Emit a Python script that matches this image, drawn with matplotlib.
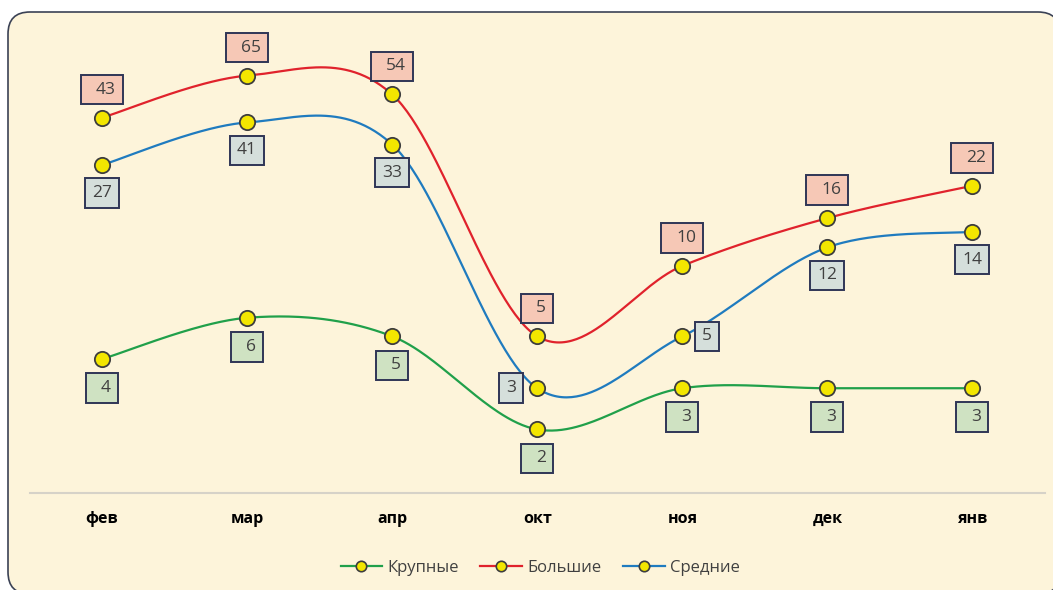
import numpy as np
import matplotlib
matplotlib.use("Agg")
import matplotlib.pyplot as plt
from matplotlib.patches import FancyBboxPatch
from matplotlib.path import Path
from matplotlib.lines import Line2D
from matplotlib.ticker import NullLocator

# --- data -------------------------------------------------------------
months = ["фев", "мар", "апр", "окт", "ноя", "дек", "янв"]
krupnye = [4, 6, 5, 2, 3, 3, 3]
bolshie = [43, 65, 54, 5, 10, 16, 22]
srednie = [27, 41, 33, 3, 5, 12, 14]
series_names = ["Крупные", "Большие", "Средние"]

# --- styling ----------------------------------------------------------
W, H, DPI = 1053, 590, 100
plt.rcParams['font.family'] = ['Open Sans', 'DejaVu Sans']

C_RED = '#e0222c'
C_BLUE = '#1f7bbf'
C_GREEN = '#20a04a'
MARKER_FACE = '#f3e600'
MARKER_EDGE = '#3d3d3d'
BOX_EDGE = '#2f3556'
TEXT_C = '#404040'


class LabelBox:
    """Rectangular label frame with independent left/right/vertical padding (px)."""

    def __init__(self, left, right, vert):
        self.left, self.right, self.vert = left, right, vert

    def __call__(self, x0, y0, width, height, mutation_size):
        xa = x0 - self.left
        xb = x0 + width + self.right
        ya = y0 - self.vert
        yb = y0 + height + self.vert
        return Path([(xa, ya), (xb, ya), (xb, yb), (xa, yb), (xa, ya)], closed=True)


def smooth(vals, n=60):
    """Cubic Bezier smoothing (Catmull-Rom style) in index / log10 space."""
    x = np.arange(len(vals), dtype=float)
    y = np.log10(np.asarray(vals, dtype=float))
    last = len(vals) - 1
    t = np.linspace(0, 1, n)
    xs, ys = [], []
    for i in range(last):
        i0 = max(i - 1, 0)
        i3 = min(i + 2, last)
        c1x = x[i] + (x[i + 1] - x[i0]) / 6
        c1y = y[i] + (y[i + 1] - y[i0]) / 6
        c2x = x[i + 1] - (x[i3] - x[i]) / 6
        c2y = y[i + 1] - (y[i3] - y[i]) / 6
        b0, b1, b2, b3 = (1 - t) ** 3, 3 * (1 - t) ** 2 * t, 3 * (1 - t) * t ** 2, t ** 3
        xs.append(b0 * x[i] + b1 * c1x + b2 * c2x + b3 * x[i + 1])
        ys.append(b0 * y[i] + b1 * c1y + b2 * c2y + b3 * y[i + 1])
    return np.concatenate(xs), 10 ** np.concatenate(ys)


fig = plt.figure(figsize=(W / DPI, H / DPI), dpi=DPI, facecolor='white')

# cream panel with a rounded dark frame
panel = FancyBboxPatch((8 / DPI, -4 / DPI), 1052 / DPI, 582 / DPI,
                       boxstyle="round,pad=0,rounding_size=0.22",
                       transform=fig.dpi_scale_trans,
                       facecolor='#fdf4da', edgecolor='#3b4255', linewidth=1.2,
                       zorder=-5)
fig.patches.append(panel)

ax = fig.add_axes([29.5 / W, 1 - 493 / H, 1015.5 / W, (493 - 25) / H])
ax.set_zorder(2)
ax.set_facecolor('none')
ax.set_yscale('log')
ax.set_ylim(1.07, 107)
ax.set_xlim(-0.5, 6.5)
ax.yaxis.set_major_locator(NullLocator())
ax.yaxis.set_minor_locator(NullLocator())
for side in ('left', 'right', 'top'):
    ax.spines[side].set_visible(False)
ax.spines['bottom'].set_color('#d6d2c8')
ax.spines['bottom'].set_linewidth(1.5)
ax.set_xticks(range(len(months)))
ax.set_xticklabels(months, fontweight='bold', fontsize=11.5, color='black')
ax.tick_params(axis='x', length=0, pad=13)

xi = np.arange(len(months))

# label placements in pixels (dx, dy) for each point
red_offsets = [(0, 28)] * 7
blue_offsets = [(0, -28), (0, -28), (0, -28), (-26, 0), (25, 0), (0, -28), (0, -28)]
green_offsets = [(0, -29)] * 7

series = [
    (bolshie, C_RED, '#f6c8b6', red_offsets, LabelBox(15, 7, 6.8)),
    (srednie, C_BLUE, '#d5dfdb', blue_offsets, LabelBox(7, 7, 6.8)),
    (krupnye, C_GREEN, '#cfe2c2', green_offsets, LabelBox(15, 7, 6.8)),
]

for vals, col, fill, offs, box in series:
    sx, sy = smooth(vals)
    ax.plot(sx, sy, color=col, lw=1.6, zorder=2, solid_capstyle='round')
    ax.plot(xi, vals, ls='none', marker='o', ms=11, mfc=MARKER_FACE,
            mec=MARKER_EDGE, mew=1.3, zorder=3)
    shift = (box.left - box.right) / 2
    for i, v in enumerate(vals):
        dx, dy = offs[i]
        ax.annotate(str(v), (i, v), xytext=(dx + shift, dy),
                    textcoords='offset pixels', ha='center', va='center',
                    fontsize=12.5, color=TEXT_C, zorder=5, annotation_clip=False,
                    bbox=dict(boxstyle=box, facecolor=fill, edgecolor=BOX_EDGE,
                              linewidth=1.4))

# legend
handles = []
for col in (C_GREEN, C_RED, C_BLUE):
    handles.append(Line2D([], [], color=col, lw=1.6, marker='o', ms=7.5,
                          mfc=MARKER_FACE, mec=MARKER_EDGE, mew=1.2))
leg = fig.legend(handles, series_names, loc='center',
                 bbox_to_anchor=(540 / W, 1 - 568 / H), ncol=3, frameon=False,
                 fontsize=12, handlelength=2.5, handletextpad=0.3,
                 columnspacing=1.3)
for txt in leg.get_texts():
    txt.set_color(TEXT_C)

fig.savefig('out.png', dpi=DPI, facecolor='white')
